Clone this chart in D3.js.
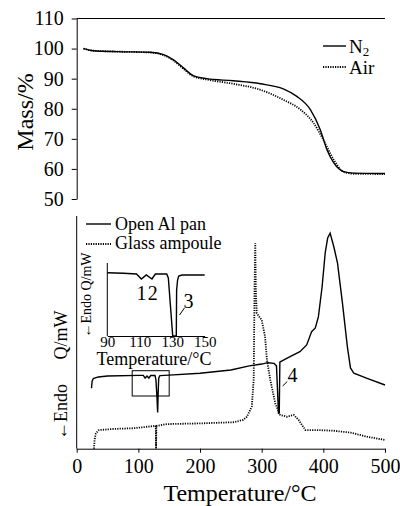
<!DOCTYPE html>
<meta charset="utf-8">
<style>
body { margin: 0; background: #fff; }
svg { font-family: "Liberation Serif", "Times New Roman", serif; }
.axis path, .axis line { stroke: #000; stroke-width: 1; }
.axis text { font-size: 20px; fill: #000; font-family: "Liberation Serif", serif; }
.solid { fill: none; stroke: #000; stroke-width: 1.4px; }
.dotted { fill: none; stroke: #000; stroke-width: 1.8px; stroke-dasharray: 1.2,1.2; }
</style>
<svg width="400" height="506"></svg>
<script src="https://cdn.jsdelivr.net/npm/d3@7"></script>
<script>

// TGA (mass %) vs temperature
var tgaN2T   = [11, 27, 65, 119, 141, 157, 173, 189, 211, 254, 298, 335, 357, 379, 395, 406, 417, 433, 449, 500];
var tgaN2M   = [100, 99.3, 99, 98.8, 98, 96.3, 93.6, 91, 90, 89.3, 88.3, 86.6, 84.1, 79.7, 73, 66.3, 62, 59.1, 58.6, 58.5];
var tgaAirT  = [11, 27, 65, 119, 141, 157, 173, 189, 211, 254, 298, 335, 363, 384, 400, 417, 433, 449, 500];
var tgaAirM  = [100, 99.3, 99, 98.7, 97.8, 96, 93.3, 90.8, 89.7, 88.3, 86.3, 83, 79.7, 75.3, 69.7, 63, 59, 58.4, 58.3];

// DSC, arbitrary units
var alT = [24, 25, 27, 35, 50, 100, 108, 111, 114, 117, 120, 127, 128.5, 130, 131.3, 132, 133, 135, 150, 200, 250, 280, 300, 310, 320, 324,
           327.3, 328.5, 329.5, 330, 346, 362, 373, 381, 387, 392, 398, 403, 407, 411, 417, 423, 431, 439, 444, 449.5, 471, 500];
var alQ = [26.3, 29.4, 30.5, 31.2, 31.6, 31.9, 31.9, 30.7, 31.6, 30.7, 31.8, 31.8, 29.9, 23.3, 15.7, 23.3, 30.7, 31.8, 32, 32.8, 34.2, 36, 36.8, 37.4, 37.1, 36,
           15.4, 15.5, 37.7, 37.8, 40, 42.2, 45.1, 50.9, 52.5, 57.4, 70.4, 85.1, 91.6, 93.7, 87.8, 80.7, 63.3, 44.3, 35.1, 32.8, 30.6, 27.7];
var glassT = [28, 29, 31, 36, 60, 92, 127, 128.2, 128.7, 129.2, 146, 200, 254, 270, 276, 284, 287, 288.5, 289.6, 290.5, 292, 296, 300,
              305.5, 308.5, 314, 322, 330, 341, 352, 360, 371, 390, 417, 444, 471, 500];
var glassQ = [0, 3.8, 6.7, 8.1, 8.6, 8.9, 9.9, 9.9, 0, 9.9, 10.7, 11, 11.5, 12.5, 13.9, 18.3, 29.9, 70.4, 89.3, 69, 58.9, 57.4, 56,
              48.7, 38.6, 29.9, 19.7, 14.7, 13.9, 14.7, 12.5, 8.1, 8.1, 7.8, 7, 5.2, 3.8];

// inset: open Al pan, 90-150 °C
var insetT = [90, 100, 108, 111, 114, 117.5, 119.6, 126.6, 127.6, 130.3, 132.5, 132.7, 133.3, 134, 136, 150];
var insetQ = [86.7, 85.9, 84.9, 78.1, 83.6, 78.1, 84.9, 84.9, 79.5, 0, 0, 63, 76.7, 82.2, 83.6, 83.6];

var tempTicks = [0, 100, 200, 300, 400, 500];
var massTicks = [50, 60, 70, 80, 90, 100, 110];
var insetTicks = [90, 110, 130, 150];

function zip(a, b) { return a.map(function(v, i) { return [v, b[i]]; }); }

var svg = d3.select("svg");

var x = d3.scaleLinear().domain([0, 500]).range([76.7, 385]);
var yM = d3.scaleLinear().domain([50, 110]).range([199, 18.5]);
var yQ = d3.scaleLinear().domain([0, 100]).range([448.7, 218.7]);

// ---- top panel ----
svg.append("g").attr("class", "axis")
    .attr("transform", "translate(" + x(0) + ",0)")
    .call(d3.axisLeft(yM).tickValues(massTicks).tickSize(5).tickSizeOuter(0).tickPadding(8))
    .attr("font-family", null).attr("font-size", null);

svg.append("line")
    .attr("x1", x(0)).attr("x2", x(500))
    .attr("y1", yM(110)).attr("y2", yM(110))
    .attr("stroke", "#000");

var lineM = d3.line().x(function(d) { return x(d[0]); }).y(function(d) { return yM(d[1]); }).curve(d3.curveMonotoneX);

svg.append("path").attr("class", "dotted").attr("d", lineM(zip(tgaAirT, tgaAirM)));
svg.append("path").attr("class", "solid").attr("d", lineM(zip(tgaN2T, tgaN2M)));

svg.append("text")
    .attr("transform", "translate(33,112) rotate(-90)")
    .attr("text-anchor", "middle")
    .style("font-size", "24px")
    .text("Mass/%");

// legend top
svg.append("line").attr("class", "solid").attr("x1", 323).attr("x2", 346).attr("y1", 46).attr("y2", 46);
var n2 = svg.append("text").attr("x", 349).attr("y", 53).style("font-size", "19px").text("N");
n2.append("tspan").attr("dy", 3).style("font-size", "13px").text("2");
svg.append("line").attr("class", "dotted").attr("x1", 323).attr("x2", 346).attr("y1", 67).attr("y2", 67);
svg.append("text").attr("x", 349).attr("y", 74).style("font-size", "19px").text("Air");

// ---- bottom panel ----
svg.append("g").attr("class", "axis")
    .attr("transform", "translate(0," + yQ(0) + ")")
    .call(d3.axisBottom(x).tickValues(tempTicks).tickSize(4).tickSizeOuter(0).tickPadding(6))
    .attr("font-family", null).attr("font-size", null);

svg.append("line")
    .attr("x1", x(0)).attr("x2", x(0))
    .attr("y1", 216).attr("y2", yQ(0))
    .attr("stroke", "#000");

var lineQ = d3.line().x(function(d) { return x(d[0]); }).y(function(d) { return yQ(d[1]); });

svg.append("path").attr("class", "dotted").attr("d", lineQ(zip(glassT, glassQ)));
svg.append("path").attr("class", "solid").attr("d", lineQ(zip(alT, alQ)));

// zoom box on main curve
svg.append("rect")
    .attr("x", x(90)).attr("width", x(150) - x(90))
    .attr("y", 370.7).attr("height", 25.3)
    .attr("fill", "none").attr("stroke", "#000");

// peak 4 label
svg.append("line").attr("x1", x(334)).attr("y1", 386).attr("x2", x(341.5)).attr("y2", 381.5).attr("stroke", "#000");
svg.append("text").attr("x", x(342)).attr("y", 382).style("font-size", "20px").text("4");

svg.append("text")
    .attr("transform", "translate(67,335) rotate(-90)")
    .attr("text-anchor", "middle")
    .style("font-size", "18px")
    .text("Q/mW");
svg.append("text")
    .attr("transform", "translate(67,412) rotate(-90)")
    .attr("text-anchor", "middle")
    .style("font-size", "18px")
    .text("\u2190Endo");

svg.append("text")
    .attr("x", 240).attr("y", 501)
    .attr("text-anchor", "middle")
    .style("font-size", "24px")
    .text("Temperature/\u00B0C");

// legend bottom
svg.append("line").attr("class", "solid").attr("x1", 86).attr("x2", 111).attr("y1", 224).attr("y2", 224);
svg.append("text").attr("x", 115).attr("y", 230).style("font-size", "18px").text("Open Al pan");
svg.append("line").attr("class", "dotted").attr("x1", 86).attr("x2", 111).attr("y1", 244).attr("y2", 244);
svg.append("text").attr("x", 115).attr("y", 249).style("font-size", "18px").text("Glass ampoule");

// ---- inset ----
var xi = d3.scaleLinear().domain([90, 150]).range([107.3, 204.7]);
var yi = d3.scaleLinear().domain([0, 100]).range([336, 263]);

var gi = svg.append("g").attr("class", "axis inset")
    .attr("transform", "translate(0," + yi(0) + ")")
    .call(d3.axisBottom(xi).tickValues(insetTicks).tickSize(0).tickSizeOuter(0).tickPadding(0))
    .attr("font-family", null).attr("font-size", null);
gi.selectAll("text").style("font-size", "15px");

svg.append("line")
    .attr("x1", xi(90)).attr("x2", xi(90))
    .attr("y1", yi(100)).attr("y2", yi(0))
    .attr("stroke", "#000");

var lineI = d3.line().x(function(d) { return xi(d[0]); }).y(function(d) { return yi(d[1]); });
svg.append("path").attr("class", "solid").attr("d", lineI(zip(insetT, insetQ)));

svg.append("text").attr("x", xi(111)).attr("y", 300).attr("text-anchor", "middle").style("font-size", "20px").text("1");
svg.append("text").attr("x", xi(118)).attr("y", 300).attr("text-anchor", "middle").style("font-size", "20px").text("2");
svg.append("line").attr("x1", xi(134.5)).attr("y1", 315).attr("x2", xi(137.5)).attr("y2", 308).attr("stroke", "#000");
svg.append("text").attr("x", xi(137)).attr("y", 308).style("font-size", "20px").text("3");

svg.append("text")
    .attr("transform", "translate(91,295) rotate(-90)")
    .attr("text-anchor", "middle")
    .style("font-size", "14px")
    .text("\u2190Endo Q/mW");

svg.append("text")
    .attr("x", 154).attr("y", 365)
    .attr("text-anchor", "middle")
    .style("font-size", "18px")
    .text("Temperature/\u00B0C");

</script>
